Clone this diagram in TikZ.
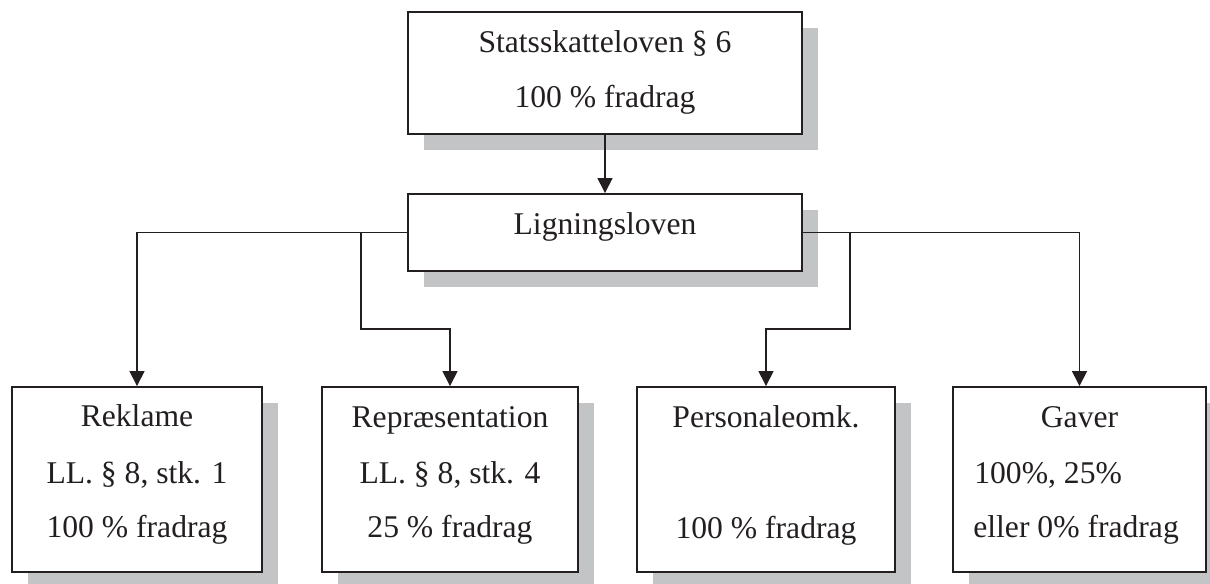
\documentclass[tikz,border=0pt]{standalone}
\usepackage{fontspec}
\setmainfont{Liberation Serif}
\usetikzlibrary{arrows.meta,shadows}
\definecolor{shgray}{RGB}{195,196,198}
\definecolor{ink}{RGB}{35,31,32}
\tikzset{
  box/.style={draw=ink, line width=1.1pt, fill=white, inner sep=0pt,
    drop shadow={shadow xshift=0.32cm, shadow yshift=-0.32cm, fill=shgray, opacity=1}},
  txt/.style={anchor=base, inner sep=0pt, text=ink, font=\fontsize{18}{22}\selectfont},
  ltxt/.style={anchor=base west, inner sep=0pt, text=ink, font=\fontsize{18}{22}\selectfont},
  conn/.style={draw=ink, line width=0.85pt, -{Triangle[length=0.3cm,width=0.3cm]}},
  plain/.style={draw=ink, line width=0.85pt}
}
\begin{document}
\begin{tikzpicture}[x=0.02cm,y=-0.02cm]
\useasboundingbox (0,0) rectangle (1210,583);
% boxes
\node[box, minimum width=394*0.02cm, minimum height=122*0.02cm] (top) at (605,73) {};
\node[box, minimum width=394*0.02cm, minimum height=77*0.02cm] (lig) at (605,232.5) {};
\node[box, minimum width=250*0.02cm, minimum height=185*0.02cm] (rek) at (137,479.5) {};
\node[box, minimum width=256*0.02cm, minimum height=185*0.02cm] (rep) at (450,479.5) {};
\node[box, minimum width=258*0.02cm, minimum height=185*0.02cm] (per) at (766,479.5) {};
\node[box, minimum width=253*0.02cm, minimum height=185*0.02cm] (gav) at (1079.5,479.5) {};
% texts
\node[txt] (top1) at (605,52) {Statsskatteloven § 6};
\node[txt] (top2) at (605,107) {100 \% fradrag};
\node[txt] (lig1) at (605,234) {Ligningsloven};
\node[txt] (rek1) at (137,426) {Reklame};
\node[txt] (rek2) at (137,483) {LL. § 8, stk. 1};
\node[txt] (rek3) at (137,537) {100 \% fradrag};
\node[txt] (rep1) at (450,427) {Repræsentation};
\node[txt] (rep2) at (450,483) {LL. § 8, stk. 4};
\node[txt] (rep3) at (450,537) {25 \% fradrag};
\node[txt] (per1) at (766,427) {Personaleomk.};
\node[txt] (per3) at (766,538) {100 \% fradrag};
\node[txt] (gav1) at (1079.5,427) {Gaver};
\node[ltxt] (gav2) at (974,483) {100\%, 25\%};
\node[ltxt] (gav3) at (973,537) {eller 0\% fradrag};
% junctions
\coordinate (j1) at (361,232.5);
\coordinate (b1) at (361,329);
\coordinate (j2) at (850,232.5);
\coordinate (b2) at (850,329);
% connectors
\draw[conn] (top.south) -- (lig.north);
\draw[conn] (lig.west) -| (rek.north);
\draw[conn] (j1) -- (b1) -| (rep.north);
\draw[conn] (lig.east) -| (gav.north);
\draw[conn] (j2) -- (b2) -| (per.north);
\end{tikzpicture}
\end{document}
